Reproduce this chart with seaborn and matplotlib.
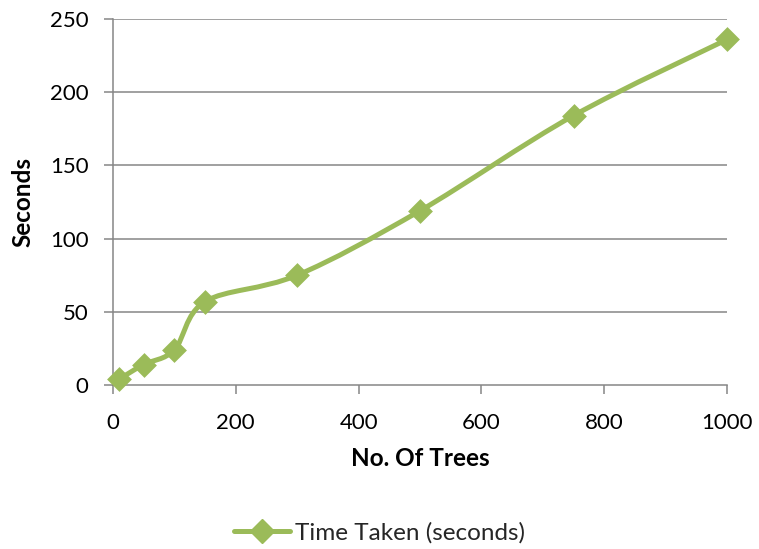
import numpy as np
import pandas as pd
import matplotlib
matplotlib.use("Agg")
import matplotlib.pyplot as plt
import seaborn as sns
from matplotlib.path import Path
from matplotlib.patches import PathPatch
from matplotlib.lines import Line2D

trees = [10, 50, 100, 150, 300, 500, 750, 1000]
seconds = [4, 14, 24, 57, 75, 119, 184, 236]
series_name = "Time Taken (seconds)"
x_ticks = [0, 200, 400, 600, 800, 1000]
y_ticks = [0, 50, 100, 150, 200, 250]

GREEN = "#9BBB59"
GRID = "#868686"

sns.set_theme(style="white")
plt.rcParams["font.family"] = ["Lato", "DejaVu Sans"]

df = pd.DataFrame({"trees": trees, "seconds": seconds})

fig = plt.figure(figsize=(7.59, 5.49), dpi=100)
ax = fig.add_axes([113 / 759, 1 - 385 / 549, (727 - 113) / 759, (385 - 19) / 549])

# Smoothed line (Excel-style Catmull-Rom Bezier through the data points)
P = np.column_stack([df["trees"].to_numpy(float), df["seconds"].to_numpy(float)])
n = len(P)
verts = [tuple(P[0])]
codes = [Path.MOVETO]
for i in range(n - 1):
    p0 = P[i - 1] if i > 0 else P[i]
    p1 = P[i]
    p2 = P[i + 1]
    p3 = P[i + 2] if i + 2 < n else P[i + 1]
    c1 = p1 + (p2 - p0) / 6.0
    c2 = p2 - (p3 - p1) / 6.0
    verts += [tuple(c1), tuple(c2), tuple(p2)]
    codes += [Path.CURVE4] * 3
patch = PathPatch(Path(verts, codes), facecolor="none", edgecolor=GREEN,
                  lw=3.6, capstyle="round", joinstyle="round", zorder=3,
                  clip_on=False)
ax.add_patch(patch)

sns.scatterplot(data=df, x="trees", y="seconds", marker="D", s=160,
                color=GREEN, edgecolor=GREEN, linewidth=0, ax=ax, zorder=4,
                legend=False, clip_on=False)

ax.set_xlim(0, 1000)
ax.set_ylim(0, 250)
ax.set_xticks(x_ticks)
ax.set_yticks(y_ticks)
ax.set_xticklabels([str(v) for v in x_ticks])
ax.set_yticklabels([str(v) for v in y_ticks])

for yv in y_ticks[1:]:
    ax.axhline(yv, color=GRID, lw=1.1, zorder=1)

for s in ["top", "right"]:
    ax.spines[s].set_visible(False)
for s in ["left", "bottom"]:
    ax.spines[s].set_color(GRID)
    ax.spines[s].set_linewidth(1.1)

ax.tick_params(axis="both", which="major", direction="out", length=6.5,
               width=1.1, color=GRID, labelsize=16, labelcolor="black")
ax.tick_params(axis="y", pad=11)
ax.tick_params(axis="x", pad=14)
ax.xaxis.set_ticks_position("bottom")
ax.yaxis.set_ticks_position("left")

ax.set_xlabel("No. Of Trees", fontsize=17.5, fontweight="bold", color="black", labelpad=10)
ax.set_ylabel("Seconds", fontsize=17.5, fontweight="bold", color="black", labelpad=11)

handle = Line2D([0], [0], color=GREEN, lw=3.6, marker="D", markersize=12,
                markerfacecolor=GREEN, markeredgecolor=GREEN)
fig.legend([handle], [series_name], loc="center", bbox_to_anchor=(0.5, 0.029),
           frameon=False, fontsize=17.5, handlelength=2.3, handletextpad=0.2)

fig.savefig("out.png", dpi=100)
